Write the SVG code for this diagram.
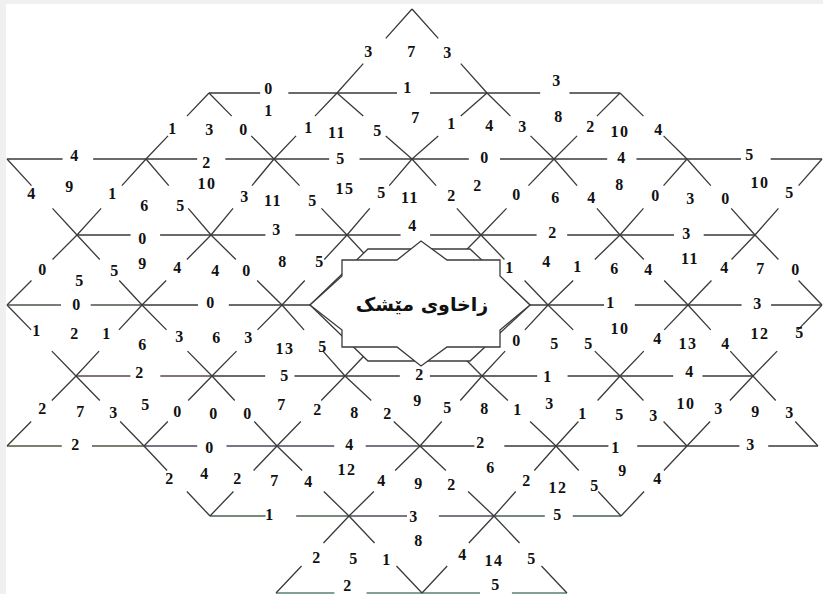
<svg xmlns="http://www.w3.org/2000/svg" width="823" height="594" viewBox="0 0 823 594">
<style>
.e{stroke:#3a3a3a;stroke-width:1.3;fill:none}
.h{stroke-dasharray:40 22 100}
.d{stroke-dasharray:35 30 100}
.t{font-family:"Liberation Serif","Times New Roman",serif;font-weight:bold;font-size:16px;fill:#111;text-anchor:middle;dominant-baseline:central;letter-spacing:1.5px}
.c{font-family:"DejaVu Sans",sans-serif;font-weight:bold;font-size:19px;fill:#111;text-anchor:middle;dominant-baseline:central}
</style>
<rect x="0" y="0" width="823" height="594" fill="#f0f0f0"/>
<rect x="6" y="4" width="817" height="590" fill="#ffffff"/>
<g id="connectors">
<g id="horizontals">
<line class="e h" pathLength="100" x1="209" y1="93" x2="337" y2="93"/>
<line class="e h" pathLength="100" x1="337" y1="93" x2="487" y2="93"/>
<line class="e h" pathLength="100" x1="487" y1="93" x2="620" y2="93"/>
<line class="e h" pathLength="100" x1="7" y1="159" x2="146" y2="159"/>
<line class="e h" pathLength="100" x1="146" y1="159" x2="274" y2="159"/>
<line class="e h" pathLength="100" x1="274" y1="159" x2="412" y2="159"/>
<line class="e h" pathLength="100" x1="412" y1="159" x2="554" y2="159"/>
<line class="e h" pathLength="100" x1="554" y1="159" x2="687" y2="159"/>
<line class="e h" pathLength="100" x1="687" y1="159" x2="822" y2="159"/>
<line class="e h" pathLength="100" x1="77" y1="235" x2="211" y2="235"/>
<line class="e h" pathLength="100" x1="211" y1="235" x2="347" y2="235"/>
<line class="e h" pathLength="100" x1="347" y1="235" x2="481" y2="235"/>
<line class="e h" pathLength="100" x1="481" y1="235" x2="620" y2="235"/>
<line class="e h" pathLength="100" x1="620" y1="235" x2="755" y2="235"/>
<line class="e h" pathLength="100" x1="7" y1="305" x2="142" y2="305" style="stroke:#4a544a"/>
<line class="e h" pathLength="100" x1="142" y1="305" x2="282" y2="305"/>
<line class="e" x1="282" y1="305" x2="548" y2="305"/>
<line class="e h" pathLength="100" x1="548" y1="305" x2="688" y2="305"/>
<line class="e h" pathLength="100" x1="688" y1="305" x2="822" y2="305"/>
<line class="e h" pathLength="100" x1="76" y1="376" x2="212" y2="376" style="stroke:#574a46"/>
<line class="e h" pathLength="100" x1="212" y1="376" x2="345" y2="376"/>
<line class="e h" pathLength="100" x1="345" y1="376" x2="482" y2="376"/>
<line class="e h" pathLength="100" x1="482" y1="376" x2="620" y2="376"/>
<line class="e h" pathLength="100" x1="620" y1="376" x2="753" y2="376"/>
<line class="e h" pathLength="100" x1="7" y1="446" x2="144" y2="446" style="stroke:#58543f"/>
<line class="e h" pathLength="100" x1="144" y1="446" x2="277" y2="446" style="stroke:#4a4a62"/>
<line class="e h" pathLength="100" x1="277" y1="446" x2="420" y2="446" style="stroke:#4a4a62"/>
<line class="e h" pathLength="100" x1="420" y1="446" x2="556" y2="446"/>
<line class="e h" pathLength="100" x1="556" y1="446" x2="687" y2="446"/>
<line class="e h" pathLength="100" x1="687" y1="446" x2="818" y2="446"/>
<line class="e h" pathLength="100" x1="210" y1="516" x2="349" y2="516" style="stroke:#4c6250"/>
<line class="e h" pathLength="100" x1="349" y1="516" x2="494" y2="516" style="stroke:#564a5e"/>
<line class="e h" pathLength="100" x1="494" y1="516" x2="621" y2="516" style="stroke:#44625e"/>
<line class="e h" pathLength="100" x1="276" y1="593" x2="422" y2="593" style="stroke:#5c8078"/>
<line class="e h" pathLength="100" x1="422" y1="593" x2="567" y2="593" style="stroke:#5c8078"/>
</g>
<g id="diagonals">
<line class="e d" pathLength="100" x1="412" y1="9" x2="337" y2="93"/>
<line class="e d" pathLength="100" x1="412" y1="9" x2="487" y2="93"/>
<line class="e d" pathLength="100" x1="209" y1="93" x2="146" y2="159"/>
<line class="e d" pathLength="100" x1="209" y1="93" x2="274" y2="159"/>
<line class="e d" pathLength="100" x1="337" y1="93" x2="274" y2="159"/>
<line class="e d" pathLength="100" x1="337" y1="93" x2="412" y2="159"/>
<line class="e d" pathLength="100" x1="487" y1="93" x2="412" y2="159"/>
<line class="e d" pathLength="100" x1="487" y1="93" x2="554" y2="159"/>
<line class="e d" pathLength="100" x1="620" y1="93" x2="554" y2="159"/>
<line class="e d" pathLength="100" x1="620" y1="93" x2="687" y2="159"/>
<line class="e d" pathLength="100" x1="7" y1="159" x2="77" y2="235"/>
<line class="e d" pathLength="100" x1="146" y1="159" x2="77" y2="235"/>
<line class="e d" pathLength="100" x1="146" y1="159" x2="211" y2="235"/>
<line class="e d" pathLength="100" x1="274" y1="159" x2="211" y2="235"/>
<line class="e d" pathLength="100" x1="274" y1="159" x2="347" y2="235"/>
<line class="e d" pathLength="100" x1="412" y1="159" x2="347" y2="235"/>
<line class="e d" pathLength="100" x1="412" y1="159" x2="481" y2="235"/>
<line class="e d" pathLength="100" x1="554" y1="159" x2="481" y2="235"/>
<line class="e d" pathLength="100" x1="554" y1="159" x2="620" y2="235"/>
<line class="e d" pathLength="100" x1="687" y1="159" x2="620" y2="235"/>
<line class="e d" pathLength="100" x1="687" y1="159" x2="755" y2="235"/>
<line class="e d" pathLength="100" x1="822" y1="159" x2="755" y2="235"/>
<line class="e d" pathLength="100" x1="77" y1="235" x2="7" y2="305"/>
<line class="e d" pathLength="100" x1="77" y1="235" x2="142" y2="305"/>
<line class="e d" pathLength="100" x1="211" y1="235" x2="142" y2="305"/>
<line class="e d" pathLength="100" x1="211" y1="235" x2="282" y2="305"/>
<line class="e d" pathLength="100" x1="347" y1="235" x2="282" y2="305"/>
<line class="e" x1="347" y1="235" x2="412" y2="305"/>
<line class="e" x1="481" y1="235" x2="412" y2="305"/>
<line class="e d" pathLength="100" x1="481" y1="235" x2="548" y2="305"/>
<line class="e d" pathLength="100" x1="620" y1="235" x2="548" y2="305"/>
<line class="e d" pathLength="100" x1="620" y1="235" x2="688" y2="305"/>
<line class="e d" pathLength="100" x1="755" y1="235" x2="688" y2="305"/>
<line class="e d" pathLength="100" x1="755" y1="235" x2="822" y2="305"/>
<line class="e d" pathLength="100" x1="7" y1="305" x2="76" y2="376"/>
<line class="e d" pathLength="100" x1="142" y1="305" x2="76" y2="376"/>
<line class="e d" pathLength="100" x1="142" y1="305" x2="212" y2="376"/>
<line class="e d" pathLength="100" x1="282" y1="305" x2="212" y2="376"/>
<line class="e d" pathLength="100" x1="282" y1="305" x2="345" y2="376"/>
<line class="e" x1="412" y1="305" x2="345" y2="376"/>
<line class="e" x1="412" y1="305" x2="482" y2="376"/>
<line class="e d" pathLength="100" x1="548" y1="305" x2="482" y2="376"/>
<line class="e d" pathLength="100" x1="548" y1="305" x2="620" y2="376"/>
<line class="e d" pathLength="100" x1="688" y1="305" x2="620" y2="376"/>
<line class="e d" pathLength="100" x1="688" y1="305" x2="753" y2="376"/>
<line class="e d" pathLength="100" x1="822" y1="305" x2="753" y2="376"/>
<line class="e d" pathLength="100" x1="76" y1="376" x2="7" y2="446"/>
<line class="e d" pathLength="100" x1="76" y1="376" x2="144" y2="446"/>
<line class="e d" pathLength="100" x1="212" y1="376" x2="144" y2="446"/>
<line class="e d" pathLength="100" x1="212" y1="376" x2="277" y2="446"/>
<line class="e d" pathLength="100" x1="345" y1="376" x2="277" y2="446"/>
<line class="e d" pathLength="100" x1="345" y1="376" x2="420" y2="446"/>
<line class="e d" pathLength="100" x1="482" y1="376" x2="420" y2="446"/>
<line class="e d" pathLength="100" x1="482" y1="376" x2="556" y2="446"/>
<line class="e d" pathLength="100" x1="620" y1="376" x2="556" y2="446"/>
<line class="e d" pathLength="100" x1="620" y1="376" x2="687" y2="446"/>
<line class="e d" pathLength="100" x1="753" y1="376" x2="687" y2="446"/>
<line class="e d" pathLength="100" x1="753" y1="376" x2="818" y2="446"/>
<line class="e d" pathLength="100" x1="144" y1="446" x2="210" y2="516"/>
<line class="e d" pathLength="100" x1="277" y1="446" x2="210" y2="516"/>
<line class="e d" pathLength="100" x1="277" y1="446" x2="349" y2="516"/>
<line class="e d" pathLength="100" x1="420" y1="446" x2="349" y2="516"/>
<line class="e d" pathLength="100" x1="420" y1="446" x2="494" y2="516"/>
<line class="e d" pathLength="100" x1="556" y1="446" x2="494" y2="516"/>
<line class="e d" pathLength="100" x1="556" y1="446" x2="621" y2="516"/>
<line class="e d" pathLength="100" x1="687" y1="446" x2="621" y2="516"/>
<line class="e d" pathLength="100" x1="349" y1="516" x2="276" y2="593"/>
<line class="e d" pathLength="100" x1="349" y1="516" x2="422" y2="593"/>
<line class="e d" pathLength="100" x1="494" y1="516" x2="422" y2="593"/>
<line class="e d" pathLength="100" x1="494" y1="516" x2="567" y2="593"/>
</g>
</g>
<g id="center">
<polygon class="e" style="fill:#fff" points="310,305 368,249 470,249 530,305 470,361 368,361"/>
<polygon class="e" style="fill:#fff" points="342,260 397,260 421,241 447,260 500,260 500,276 530,305 500,330 500,347 447,347 421,366 397,347 342,347 342,330 310,305 342,276"/>
<text class="c" x="422" y="304">زاخاوی مێشک</text>
</g>
<g id="labels-top">
<text class="t" x="369" y="51">3</text><text class="t" x="412" y="51">7</text><text class="t" x="448" y="52">3</text>
<text class="t" x="269" y="88">0</text><text class="t" x="408" y="87">1</text><text class="t" x="557" y="80">3</text>
</g>
<g id="labels-band1">
<text class="t" x="173" y="128">1</text><text class="t" x="210" y="129">3</text><text class="t" x="244" y="129">0</text><text class="t" x="269" y="110">1</text><text class="t" x="309" y="127">1</text><text class="t" x="337" y="132">11</text><text class="t" x="378" y="130">5</text><text class="t" x="416" y="117">7</text><text class="t" x="452" y="123">1</text><text class="t" x="490" y="125">4</text><text class="t" x="523" y="126">3</text><text class="t" x="559" y="116">8</text><text class="t" x="591" y="126">2</text><text class="t" x="620" y="131">10</text><text class="t" x="659" y="129">4</text>
</g>
<g id="labels-row2">
<text class="t" x="75" y="155">4</text><text class="t" x="207" y="162">2</text><text class="t" x="341" y="158">5</text><text class="t" x="485" y="157">0</text><text class="t" x="622" y="157">4</text><text class="t" x="750" y="154">5</text>
</g>
<g id="labels-band2">
<text class="t" x="32" y="193">4</text><text class="t" x="70" y="186">9</text><text class="t" x="113" y="193">1</text><text class="t" x="145" y="205">6</text><text class="t" x="181" y="205">5</text><text class="t" x="207" y="183">10</text><text class="t" x="245" y="196">3</text><text class="t" x="273" y="200">11</text><text class="t" x="313" y="200">5</text><text class="t" x="345" y="188">15</text><text class="t" x="382" y="192">5</text><text class="t" x="410" y="197">11</text><text class="t" x="452" y="195">2</text><text class="t" x="478" y="185">2</text><text class="t" x="517" y="194">0</text><text class="t" x="556" y="197">6</text><text class="t" x="592" y="197">4</text><text class="t" x="620" y="184">8</text><text class="t" x="656" y="195">0</text><text class="t" x="691" y="198">3</text><text class="t" x="726" y="198">0</text><text class="t" x="760" y="182">10</text><text class="t" x="790" y="192">5</text>
</g>
<g id="labels-row3">
<text class="t" x="143" y="238">0</text><text class="t" x="277" y="229">3</text><text class="t" x="413" y="225">4</text><text class="t" x="553" y="232">2</text><text class="t" x="687" y="233">3</text>
</g>
<g id="labels-band3">
<text class="t" x="43" y="269">0</text><text class="t" x="80" y="280">5</text><text class="t" x="115" y="270">5</text><text class="t" x="143" y="263">9</text><text class="t" x="178" y="267">4</text><text class="t" x="216" y="270">4</text><text class="t" x="247" y="270">0</text><text class="t" x="283" y="261">8</text><text class="t" x="320" y="261">5</text><text class="t" x="510" y="267">1</text><text class="t" x="547" y="261">4</text><text class="t" x="578" y="266">1</text><text class="t" x="615" y="268">6</text><text class="t" x="649" y="269">4</text><text class="t" x="690" y="258">11</text><text class="t" x="725" y="267">4</text><text class="t" x="761" y="268">7</text><text class="t" x="796" y="269">0</text>
</g>
<g id="labels-row4">
<text class="t" x="77" y="304">0</text><text class="t" x="211" y="302">0</text><text class="t" x="611" y="302">1</text><text class="t" x="758" y="303">3</text>
</g>
<g id="labels-band4">
<text class="t" x="37" y="330">1</text><text class="t" x="75" y="333">2</text><text class="t" x="107" y="333">1</text><text class="t" x="143" y="344">6</text><text class="t" x="180" y="336">3</text><text class="t" x="217" y="337">6</text><text class="t" x="249" y="337">3</text><text class="t" x="285" y="348">13</text><text class="t" x="323" y="346">5</text><text class="t" x="517" y="340">0</text><text class="t" x="555" y="343">5</text><text class="t" x="589" y="343">5</text><text class="t" x="620" y="328">10</text><text class="t" x="658" y="338">4</text><text class="t" x="688" y="343">13</text><text class="t" x="726" y="343">4</text><text class="t" x="760" y="333">12</text><text class="t" x="800" y="332">5</text>
</g>
<g id="labels-row5">
<text class="t" x="140" y="372">2</text><text class="t" x="285" y="375">5</text><text class="t" x="420" y="374">2</text><text class="t" x="548" y="376">1</text><text class="t" x="690" y="371">4</text>
</g>
<g id="labels-band5">
<text class="t" x="43" y="408">2</text><text class="t" x="81" y="411">7</text><text class="t" x="114" y="412">3</text><text class="t" x="146" y="404">5</text><text class="t" x="178" y="411">0</text><text class="t" x="214" y="413">0</text><text class="t" x="248" y="413">0</text><text class="t" x="282" y="404">7</text><text class="t" x="318" y="409">2</text><text class="t" x="355" y="412">8</text><text class="t" x="388" y="413">2</text><text class="t" x="418" y="400">9</text><text class="t" x="448" y="407">5</text><text class="t" x="485" y="408">8</text><text class="t" x="518" y="409">1</text><text class="t" x="550" y="403">3</text><text class="t" x="583" y="413">1</text><text class="t" x="620" y="414">5</text><text class="t" x="654" y="415">3</text><text class="t" x="686" y="403">10</text><text class="t" x="719" y="408">3</text><text class="t" x="756" y="411">9</text><text class="t" x="790" y="412">3</text>
</g>
<g id="labels-row6">
<text class="t" x="76" y="444">2</text><text class="t" x="210" y="447">0</text><text class="t" x="350" y="444">4</text><text class="t" x="481" y="442">2</text><text class="t" x="616" y="447">1</text><text class="t" x="751" y="444">3</text>
</g>
<g id="labels-band6">
<text class="t" x="170" y="478">2</text><text class="t" x="205" y="473">4</text><text class="t" x="238" y="478">2</text><text class="t" x="275" y="480">7</text><text class="t" x="309" y="481">4</text><text class="t" x="347" y="469">12</text><text class="t" x="382" y="480">4</text><text class="t" x="419" y="483">9</text><text class="t" x="452" y="484">2</text><text class="t" x="491" y="467">6</text><text class="t" x="527" y="480">2</text><text class="t" x="558" y="487">12</text><text class="t" x="595" y="485">5</text><text class="t" x="623" y="470">9</text><text class="t" x="658" y="478">4</text>
</g>
<g id="labels-row7">
<text class="t" x="270" y="514">1</text><text class="t" x="414" y="516">3</text><text class="t" x="558" y="514">5</text>
</g>
<g id="labels-band7">
<text class="t" x="317" y="557">2</text><text class="t" x="354" y="558">5</text><text class="t" x="387" y="559">1</text><text class="t" x="419" y="540">8</text><text class="t" x="463" y="554">4</text><text class="t" x="494" y="560">14</text><text class="t" x="532" y="558">5</text>
<text class="t" x="348" y="585">2</text><text class="t" x="496" y="584">5</text>
</g>
</svg>
